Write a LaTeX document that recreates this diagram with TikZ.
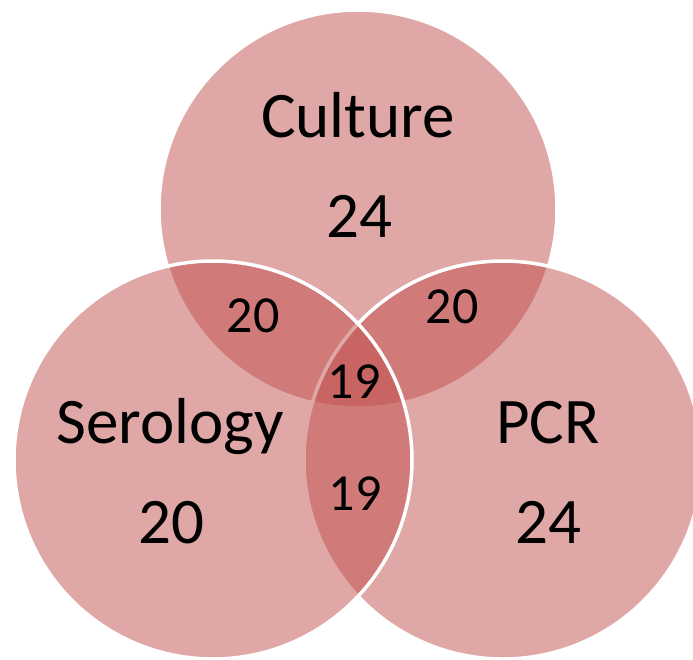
\documentclass[tikz,border=0pt]{standalone}
\usepackage{fontspec}
\setmainfont{Carlito}
\definecolor{vennred}{HTML}{C0504D}
\begin{document}
\begin{tikzpicture}[x=1pt,y=-1pt,
  venn/.style={circle, minimum size=398pt, inner sep=0pt, outer sep=0pt,
    fill=vennred, fill opacity=0.5, draw=white, line width=3.5pt},
  bigtxt/.style={anchor=base, inner sep=0pt, font=\fontsize{65}{65}\selectfont, text=black},
  smalltxt/.style={anchor=base, inner sep=0pt, font=\fontsize{52}{52}\selectfont, text=black}]
\useasboundingbox (0,0) rectangle (693,659);
\node[venn] (culture) at (358,209) {};
\node[venn] (pcr) at (503,460) {};
\node[venn] (serology) at (213,460) {};
\node[bigtxt] (tcult) at (358,137) {Culture};
\node[bigtxt] (ncult) at (359,237) {24};
\node[bigtxt] (tsero) at (170,443) {Serology};
\node[bigtxt] (nsero) at (171,543) {20};
\node[bigtxt] (tpcr) at (548,443) {PCR};
\node[bigtxt] (npcr) at (548,543) {24};
\node[smalltxt] (ncs) at (253,332) {20};
\node[smalltxt] (ncp) at (452,323) {20};
\node[smalltxt] (nall) at (354,398) {19};
\node[smalltxt] (nsp) at (355,510) {19};
\end{tikzpicture}
\end{document}
